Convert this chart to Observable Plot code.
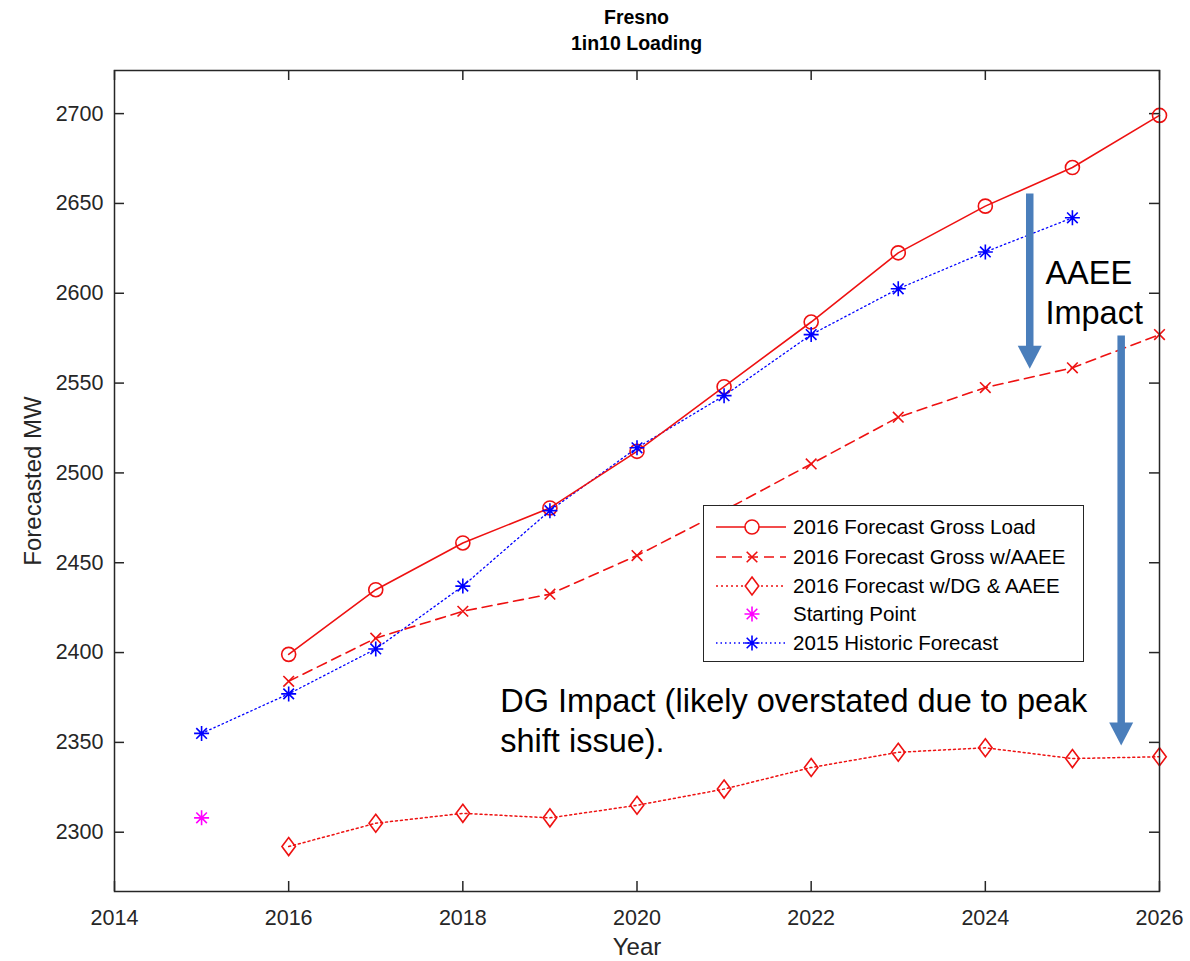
<!DOCTYPE html>
<html><head><meta charset="utf-8">
<script src="https://cdn.jsdelivr.net/npm/d3@7"></script>
<script src="https://cdn.jsdelivr.net/npm/@observablehq/plot@0.6"></script>
<style>
html,body{margin:0;padding:0;background:#fff;}
#wrap{position:relative;width:1190px;height:961px;font-family:"Liberation Sans",Arial,sans-serif;}
#title{position:absolute;left:0;top:0;width:1190px;height:60px;z-index:2;}
#title div{position:absolute;left:114px;width:1045px;text-align:center;font-weight:bold;font-size:19.5px;color:#000;line-height:1;}
#chart{position:absolute;left:0;top:52px;z-index:1;}
#legend{position:absolute;left:703px;top:505px;width:381px;height:157px;border:1.5px solid #262626;background:#fff;box-sizing:border-box;z-index:3;}
</style>
</head><body>
<div id="wrap">
  <div id="title"><div style="top:8px">Fresno</div><div style="top:34px">1in10 Loading</div></div>
  <div id="chart"></div>
  <div id="legend"></div>
</div>
<script>
// ---- data ----
const forecastYears = [2016,2017,2018,2019,2020,2021,2022,2023,2024,2025,2026];
const grossLoad   = [2399,2435,2461,2480.5,2512,2548,2584,2622.5,2648.5,2670,2699];
const grossAAEE   = [2384,2408,2423,2432.5,2454,2479,2505,2531,2547.5,2558.5,2577];
const dgAAEE      = [2292,2305,2310.5,2308,2315,2324,2336,2344.5,2347,2341,2342];
const startYears  = [2015];
const startValues = [2308];
const historicYears  = [2015,2016,2017,2018,2019,2020,2021,2022,2023,2024,2025];
const historicValues = [2355,2377,2402,2437,2479,2514,2543,2577,2602.5,2623,2642];
const xTicks = [2014,2016,2018,2020,2022,2024,2026];
const yTicks = [2300,2350,2400,2450,2500,2550,2600,2650,2700];
const seriesNames = ["2016 Forecast Gross Load","2016 Forecast Gross w/AAEE","2016 Forecast w/DG & AAEE","Starting Point","2015 Historic Forecast"];
// annotations
const aaeeArrow = {x: 2024.51, from: 2655.5, to: 2568, tip: 2558};
const dgArrow   = {x: 2025.56, from: 2576.5, to: 2358, tip: 2348.3};
const aaeeNote = {x: 2024.69, y: 2601, text: "AAEE\nImpact"};
const dgNote   = {x: 2018.43, y: 2362.7, text: "DG Impact (likely overstated due to peak\nshift issue)."};

const RED = "#ee1111", BLUE = "#0000ff", MAG = "#ff00ff", ARROW = "#4a7ebb", AX = "#262626";

const rows = (xs, ys) => xs.map((x, i) => ({x, y: ys[i]}));
const gross = rows(forecastYears, grossLoad);
const aaee = rows(forecastYears, grossAAEE);
const dg = rows(forecastYears, dgAAEE);
const start = rows(startYears, startValues);
const hist = rows(historicYears, historicValues);

// custom symbols
const asterisk = {draw(c, s){const r=Math.sqrt(s/Math.PI), d=r*Math.SQRT1_2;
  c.moveTo(0,-r);c.lineTo(0,r);c.moveTo(-r,0);c.lineTo(r,0);
  c.moveTo(-d,-d);c.lineTo(d,d);c.moveTo(-d,d);c.lineTo(d,-d);}};
const diamond = {draw(c, s){const r=Math.sqrt(s/Math.PI), w=r*0.75;
  c.moveTo(0,-r);c.lineTo(w,0);c.lineTo(0,r);c.lineTo(-w,0);c.closePath();}};
const times = {draw(c, s){const r=Math.sqrt(s/Math.PI)*Math.SQRT1_2;
  c.moveTo(-r,-r);c.lineTo(r,r);c.moveTo(-r,r);c.lineTo(r,-r);}};
const downHead = {draw(c, s){const r=Math.sqrt(s/Math.PI);
  c.moveTo(-r,-r*1.92);c.lineTo(r,-r*1.92);c.lineTo(0,0);c.closePath();}};

const W = 1190, H = 909, mT = 18, mB = 70, mL = 114, mR = 31;
const innerH = H - mT - mB, innerW = W - mL - mR, tl = 10;

const chart = Plot.plot({
  width: W, height: H, marginTop: mT, marginBottom: mB, marginLeft: mL, marginRight: mR,
  style: {fontFamily: '"Liberation Sans", Arial, sans-serif', fontSize: "21.5px", color: AX, background: "transparent", overflow: "visible"},
  x: {domain: [2014, 2026]},
  y: {domain: [2267, 2724]},
  marks: [
    Plot.axisX(xTicks, {tickSize: 0, tickPadding: 18, tickFormat: d => String(d), label: null, fontSize: 21.5}),
    Plot.axisY(yTicks, {tickSize: 0, tickPadding: 11, tickFormat: d => String(d), label: null, fontSize: 21.5}),
    Plot.tickX(xTicks, {x: d => d, insetTop: innerH - tl, stroke: AX, strokeWidth: 1.5}),
    Plot.tickX(xTicks, {x: d => d, insetBottom: innerH - tl, stroke: AX, strokeWidth: 1.5}),
    Plot.tickY(yTicks, {y: d => d, insetRight: innerW - tl, stroke: AX, strokeWidth: 1.5}),
    Plot.tickY(yTicks, {y: d => d, insetLeft: innerW - tl, stroke: AX, strokeWidth: 1.5}),
    Plot.text(["Year"], {frameAnchor: "bottom", dy: 56, lineAnchor: "middle", textAnchor: "middle", text: d => d, fontSize: 24, fill: AX}),
    Plot.text(["Forecasted MW"], {frameAnchor: "left", dx: -81, rotate: -90, lineAnchor: "middle", textAnchor: "middle", text: d => d, fontSize: 24, fill: AX}),
    // series
    Plot.line(hist, {x: "x", y: "y", stroke: BLUE, strokeWidth: 1.3, strokeDasharray: "1.5,3"}),
    Plot.line(gross, {x: "x", y: "y", stroke: RED, strokeWidth: 1.6}),
    Plot.line(aaee, {x: "x", y: "y", stroke: RED, strokeWidth: 1.6, strokeDasharray: "10,6"}),
    Plot.line(dg, {x: "x", y: "y", stroke: RED, strokeWidth: 1.5, strokeDasharray: "2,3"}),
    Plot.dot(gross, {x: "x", y: "y", r: 7, stroke: RED, strokeWidth: 1.6, fill: "none"}),
    Plot.dot(aaee, {x: "x", y: "y", r: 7.5, symbol: times, stroke: RED, strokeWidth: 1.6}),
    Plot.dot(dg, {x: "x", y: "y", r: 9, symbol: diamond, stroke: RED, strokeWidth: 1.6, fill: "none"}),
    Plot.dot(start, {x: "x", y: "y", r: 7.5, symbol: asterisk, stroke: MAG, strokeWidth: 1.6}),
    Plot.dot(hist, {x: "x", y: "y", r: 7.5, symbol: asterisk, stroke: BLUE, strokeWidth: 1.6}),
    // annotations
    Plot.link([aaeeArrow, dgArrow], {x1: "x", x2: "x", y1: "from", y2: "to", stroke: ARROW, strokeWidth: 7.5}),
    Plot.dot([aaeeArrow, dgArrow], {x: "x", y: "tip", r: 12, symbol: downHead, fill: ARROW, stroke: "none"}),
    Plot.text([aaeeNote, dgNote], {x: "x", y: "y", text: "text", textAnchor: "start", lineAnchor: "middle", fontSize: 32.5, lineHeight: 1.21, fill: "#000"}),
    Plot.frame({stroke: AX, strokeWidth: 1.5})
  ]
});
document.getElementById("chart").appendChild(chart);

// legend
const lg = d3.select("#legend").append("svg").attr("width", 378).attr("height", 154)
  .style("font-family", '"Liberation Sans", Arial, sans-serif').style("display", "block");
const rowY = [21, 51, 80, 108, 137];
const lx1 = 12, lx2 = 82, mx = 48, tx = 89;
const specs = [
  {stroke: RED, dash: null, sym: "circle", w: 1.6},
  {stroke: RED, dash: "10,6", sym: "times", w: 1.6},
  {stroke: RED, dash: "2,3", sym: "diamond", w: 1.5},
  {stroke: MAG, dash: "none", sym: "asterisk", w: 1.6},
  {stroke: BLUE, dash: "1.5,3", sym: "asterisk", w: 1.3}
];
seriesNames.forEach((name, i) => {
  const s = specs[i], y = rowY[i];
  const g = lg.append("g");
  if (s.dash !== "none") {
    g.append("line").attr("x1", lx1).attr("x2", lx2).attr("y1", y).attr("y2", y)
      .attr("stroke", s.stroke).attr("stroke-width", s.w).attr("stroke-dasharray", s.dash);
  }
  let d;
  if (s.sym === "circle") d = d3.symbol(d3.symbolCircle, Math.PI*49)();
  else if (s.sym === "times") d = d3.symbol(times, Math.PI*7.5*7.5)();
  else if (s.sym === "diamond") d = d3.symbol(diamond, Math.PI*81)();
  else d = d3.symbol(asterisk, Math.PI*7.5*7.5)();
  g.append("path").attr("d", d).attr("transform", `translate(${mx},${y})`)
    .attr("fill", s.sym === "circle" || s.sym === "diamond" ? "#fff" : "none")
    .attr("stroke", s.stroke).attr("stroke-width", 1.6);
  g.append("text").attr("x", tx).attr("y", y).attr("dy", "0.35em")
    .attr("font-size", 20.5).attr("fill", "#000").text(name);
});
</script>
</body></html>
